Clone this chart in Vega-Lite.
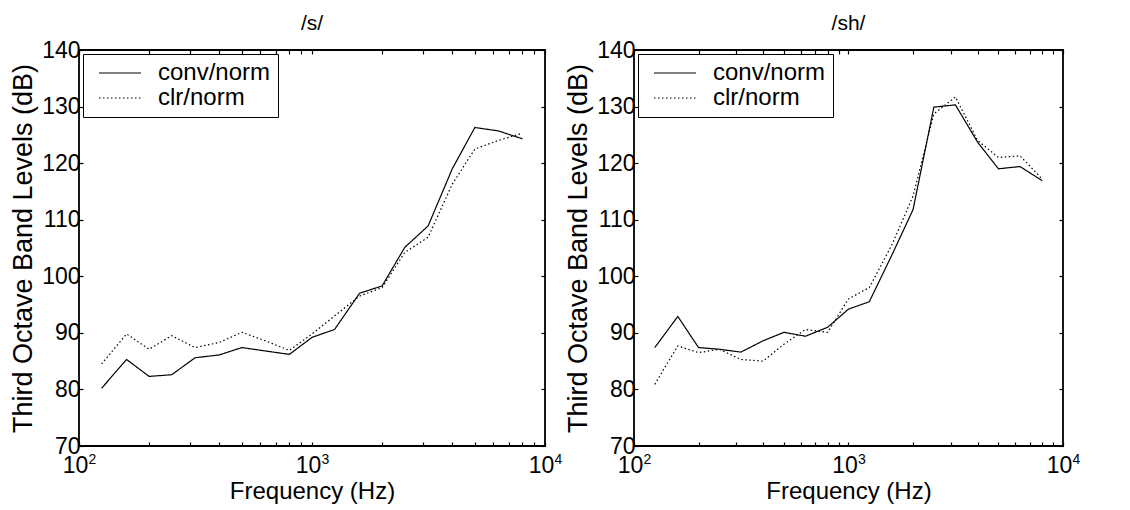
{
  "$schema": "https://vega.github.io/schema/vega-lite/v6.json",
  "padding": {"left": 8, "top": 12, "right": 0, "bottom": 0},
  "background": "white",
  "datasets": {
    "s": [
      {"f": 125, "series": "conv/norm", "db": 80.2},
      {"f": 160, "series": "conv/norm", "db": 85.3},
      {"f": 200, "series": "conv/norm", "db": 82.3},
      {"f": 250, "series": "conv/norm", "db": 82.6},
      {"f": 315, "series": "conv/norm", "db": 85.6},
      {"f": 400, "series": "conv/norm", "db": 86.1},
      {"f": 500, "series": "conv/norm", "db": 87.4},
      {"f": 630, "series": "conv/norm", "db": 86.8},
      {"f": 800, "series": "conv/norm", "db": 86.2},
      {"f": 1000, "series": "conv/norm", "db": 89.2},
      {"f": 1250, "series": "conv/norm", "db": 90.6},
      {"f": 1600, "series": "conv/norm", "db": 97.0},
      {"f": 2000, "series": "conv/norm", "db": 98.3},
      {"f": 2500, "series": "conv/norm", "db": 105.1},
      {"f": 3150, "series": "conv/norm", "db": 108.9},
      {"f": 4000, "series": "conv/norm", "db": 119.0},
      {"f": 5000, "series": "conv/norm", "db": 126.3},
      {"f": 6300, "series": "conv/norm", "db": 125.7},
      {"f": 8000, "series": "conv/norm", "db": 124.3},
      {"f": 125, "series": "clr/norm", "db": 84.5},
      {"f": 160, "series": "clr/norm", "db": 89.8},
      {"f": 200, "series": "clr/norm", "db": 87.1},
      {"f": 250, "series": "clr/norm", "db": 89.5},
      {"f": 315, "series": "clr/norm", "db": 87.4},
      {"f": 400, "series": "clr/norm", "db": 88.3},
      {"f": 500, "series": "clr/norm", "db": 90.1},
      {"f": 630, "series": "clr/norm", "db": 88.6},
      {"f": 800, "series": "clr/norm", "db": 86.9},
      {"f": 1000, "series": "clr/norm", "db": 89.8},
      {"f": 1250, "series": "clr/norm", "db": 93.0},
      {"f": 1600, "series": "clr/norm", "db": 96.5},
      {"f": 2000, "series": "clr/norm", "db": 98.0},
      {"f": 2500, "series": "clr/norm", "db": 104.2},
      {"f": 3150, "series": "clr/norm", "db": 106.9},
      {"f": 4000, "series": "clr/norm", "db": 116.3},
      {"f": 5000, "series": "clr/norm", "db": 122.5},
      {"f": 6300, "series": "clr/norm", "db": 124.0},
      {"f": 8000, "series": "clr/norm", "db": 125.3}
    ],
    "sh": [
      {"f": 125, "series": "conv/norm", "db": 87.4},
      {"f": 160, "series": "conv/norm", "db": 92.9},
      {"f": 200, "series": "conv/norm", "db": 87.4},
      {"f": 250, "series": "conv/norm", "db": 87.1},
      {"f": 315, "series": "conv/norm", "db": 86.6},
      {"f": 400, "series": "conv/norm", "db": 88.6},
      {"f": 500, "series": "conv/norm", "db": 90.1},
      {"f": 630, "series": "conv/norm", "db": 89.4},
      {"f": 800, "series": "conv/norm", "db": 91.0},
      {"f": 1000, "series": "conv/norm", "db": 94.2},
      {"f": 1250, "series": "conv/norm", "db": 95.5},
      {"f": 1600, "series": "conv/norm", "db": 103.9},
      {"f": 2000, "series": "conv/norm", "db": 111.8},
      {"f": 2500, "series": "conv/norm", "db": 129.9},
      {"f": 3150, "series": "conv/norm", "db": 130.3},
      {"f": 4000, "series": "conv/norm", "db": 123.7},
      {"f": 5000, "series": "conv/norm", "db": 119.0},
      {"f": 6300, "series": "conv/norm", "db": 119.4},
      {"f": 8000, "series": "conv/norm", "db": 116.9},
      {"f": 125, "series": "clr/norm", "db": 80.9},
      {"f": 160, "series": "clr/norm", "db": 87.7},
      {"f": 200, "series": "clr/norm", "db": 86.5},
      {"f": 250, "series": "clr/norm", "db": 87.1},
      {"f": 315, "series": "clr/norm", "db": 85.3},
      {"f": 400, "series": "clr/norm", "db": 85.0},
      {"f": 500, "series": "clr/norm", "db": 88.0},
      {"f": 630, "series": "clr/norm", "db": 90.6},
      {"f": 800, "series": "clr/norm", "db": 90.1},
      {"f": 1000, "series": "clr/norm", "db": 96.0},
      {"f": 1250, "series": "clr/norm", "db": 98.0},
      {"f": 1600, "series": "clr/norm", "db": 105.7},
      {"f": 2000, "series": "clr/norm", "db": 114.2},
      {"f": 2500, "series": "clr/norm", "db": 128.7},
      {"f": 3150, "series": "clr/norm", "db": 131.7},
      {"f": 4000, "series": "clr/norm", "db": 124.0},
      {"f": 5000, "series": "clr/norm", "db": 121.0},
      {"f": 6300, "series": "clr/norm", "db": 121.3},
      {"f": 8000, "series": "clr/norm", "db": 117.2}
    ]
  },
  "spacing": 0,
  "hconcat": [
    {
      "title": "/s/",
      "width": 466,
      "height": 396,
      "data": {"name": "s"},
      "layer": [
        {
          "mark": {"type": "line", "color": "black", "strokeWidth": 1.2},
          "encoding": {
            "x": {"field": "f", "type": "quantitative", "scale": {"type": "log", "domain": [100, 10000], "nice": false},
              "axis": {"orient": "bottom", "title": "Frequency (Hz)", "values": [100,200,300,400,500,600,700,800,900,1000,2000,3000,4000,5000,6000,7000,8000,9000,10000],
                "labelExpr": "datum.value == 100 || datum.value == 1000 || datum.value == 10000 ? '10' : ''",
                "labelPadding": 12, "labelOffset": -4, "titlePadding": 2, "labelFlush": false, "labelOverlap": false}},
            "y": {"field": "db", "type": "quantitative", "scale": {"domain": [70, 140], "nice": false, "zero": false},
              "axis": {"orient": "left", "title": "Third Octave Band Levels (dB)", "values": [70,80,90,100,110,120,130,140], "labelPadding": 3, "titlePadding": 4, "titleFontSize": 27, "labelFlush": false}},
            "strokeDash": {"field": "series", "type": "nominal", "scale": {"domain": ["conv/norm", "clr/norm"], "range": [[1, 0], [1.5, 2.5]]}}
          }
        },
        {
          "mark": {"type": "line", "strokeOpacity": 0},
          "encoding": {
            "x": {"field": "f", "type": "quantitative", "axis": {"orient": "top", "title": null, "labels": false, "values": [100,200,300,400,500,600,700,800,900,1000,2000,3000,4000,5000,6000,7000,8000,9000,10000]}},
            "y": {"field": "db", "type": "quantitative", "axis": {"orient": "right", "title": null, "labels": false, "values": [70,80,90,100,110,120,130,140]}},
            "detail": {"field": "series"}
          }
        },
        {
          "mark": {"type": "line", "strokeOpacity": 0},
          "encoding": {
            "x": {"field": "f", "type": "quantitative", "axis": {"orient": "bottom", "title": null, "ticks": false, "values": [100, 1000, 10000],
              "labelExpr": "datum.value == 100 ? '2' : datum.value == 1000 ? '3' : '4'", "labelFontSize": 14, "labelPadding": 6, "labelOffset": 13, "labelFlush": false, "labelOverlap": false}},
            "y": {"field": "db", "type": "quantitative", "axis": null},
            "detail": {"field": "series"}
          }
        }
      ],
      "resolve": {"axis": {"x": "independent", "y": "independent"}}
    },
    {
      "title": "/sh/",
      "width": 429,
      "height": 396,
      "data": {"name": "sh"},
      "layer": [
        {
          "mark": {"type": "line", "color": "black", "strokeWidth": 1.2},
          "encoding": {
            "x": {"field": "f", "type": "quantitative", "scale": {"type": "log", "domain": [100, 10000], "nice": false},
              "axis": {"orient": "bottom", "title": "Frequency (Hz)", "values": [100,200,300,400,500,600,700,800,900,1000,2000,3000,4000,5000,6000,7000,8000,9000,10000],
                "labelExpr": "datum.value == 100 || datum.value == 1000 || datum.value == 10000 ? '10' : ''",
                "labelPadding": 12, "labelOffset": -4, "titlePadding": 2, "labelFlush": false, "labelOverlap": false}},
            "y": {"field": "db", "type": "quantitative", "scale": {"domain": [70, 140], "nice": false, "zero": false},
              "axis": {"orient": "left", "title": "Third Octave Band Levels (dB)", "values": [70,80,90,100,110,120,130,140], "labelPadding": 3, "titlePadding": 4, "titleFontSize": 27, "labelFlush": false}},
            "strokeDash": {"field": "series", "type": "nominal", "scale": {"domain": ["conv/norm", "clr/norm"], "range": [[1, 0], [1.5, 2.5]]}}
          }
        },
        {
          "mark": {"type": "line", "strokeOpacity": 0},
          "encoding": {
            "x": {"field": "f", "type": "quantitative", "axis": {"orient": "top", "title": null, "labels": false, "values": [100,200,300,400,500,600,700,800,900,1000,2000,3000,4000,5000,6000,7000,8000,9000,10000]}},
            "y": {"field": "db", "type": "quantitative", "axis": {"orient": "right", "title": null, "labels": false, "values": [70,80,90,100,110,120,130,140]}},
            "detail": {"field": "series"}
          }
        },
        {
          "mark": {"type": "line", "strokeOpacity": 0},
          "encoding": {
            "x": {"field": "f", "type": "quantitative", "axis": {"orient": "bottom", "title": null, "ticks": false, "values": [100, 1000, 10000],
              "labelExpr": "datum.value == 100 ? '2' : datum.value == 1000 ? '3' : '4'", "labelFontSize": 14, "labelPadding": 6, "labelOffset": 13, "labelFlush": false, "labelOverlap": false}},
            "y": {"field": "db", "type": "quantitative", "axis": null},
            "detail": {"field": "series"}
          }
        }
      ],
      "resolve": {"axis": {"x": "independent", "y": "independent"}}
    }
  ],
  "resolve": {"legend": {"strokeDash": "independent"}},
  "config": {
    "font": "Liberation Sans",
    "view": {"stroke": "black", "strokeWidth": 1.8},
    "axis": {"domain": false, "grid": false, "labelFontSize": 23, "titleFontSize": 24, "labelColor": "black", "titleColor": "black", "titleFontWeight": "normal", "tickColor": "black", "tickSize": -4, "tickWidth": 1.2},
    "title": {"fontSize": 21, "fontWeight": "normal", "offset": 5, "color": "black"},
    "legend": {"orient": "top-left", "offset": 4, "strokeColor": "black", "fillColor": "white", "padding": 7, "title": null, "symbolType": "M-2.1,0H2.1", "symbolSize": 400, "symbolStrokeWidth": 1.2, "symbolStrokeColor": "black", "symbolOffset": 18, "labelFontSize": 24, "labelOffset": 26, "rowPadding": 1, "labelColor": "black", "labelExpr": "datum.label + '\u2002'"}
  }
}
